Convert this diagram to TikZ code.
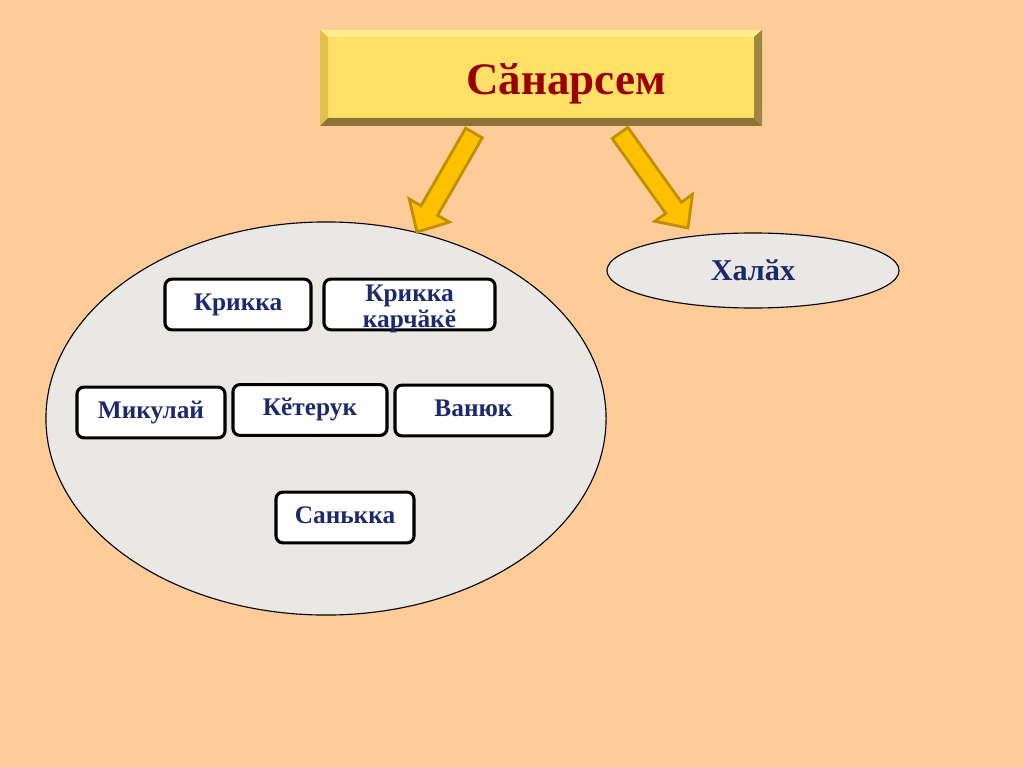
\documentclass[tikz,border=0pt]{standalone}
\usepackage{fontspec}
\setmainfont{Liberation Serif}
\usetikzlibrary{calc, shapes.geometric}
\definecolor{cpeach}{HTML}{FFCC99}
\definecolor{cyellow}{HTML}{FFE066}
\definecolor{cbevtop}{HTML}{FFEC8C}
\definecolor{cbevleft}{HTML}{E3C04A}
\definecolor{cbevbottom}{HTML}{8B7536}
\definecolor{cbevright}{HTML}{9C8640}
\definecolor{cgold}{HTML}{FFC000}
\definecolor{cgolddark}{HTML}{BF9000}
\definecolor{cstone}{HTML}{EAE8E5}
\definecolor{cnavy}{HTML}{1C2A6B}
\definecolor{cdarkred}{HTML}{990000}
\tikzset{
  every picture/.style={font=\bfseries},
  namebox/.style={draw=black, fill=white, rounded corners=5pt, line width=2.2pt, minimum width=#1, minimum height=1.27cm, inner sep=2pt, text=cnavy, font=\bfseries\fontsize{18}{18}\selectfont, align=center, text height=0.42cm, text depth=0.14cm},
  group/.style={ellipse, draw=black, fill=cstone, line width=0.8pt, inner sep=0pt},
  blockarrow/.style={draw=cgolddark, fill=cgold, line width=2pt, line join=miter},
  title/.style={text=cdarkred, font=\bfseries\fontsize{32}{32}\selectfont},
}
% block arrow from #1 to #2
\newcommand\blockarrow[2]{%
  \coordinate (h) at ($(#2)!0.62cm!(#1)$);
  \path[blockarrow] ($(#1)!0.24cm!90:(#2)$) -- ($(h)!0.24cm!-90:(#1)$) -- ($(h)!0.58cm!-90:(#1)$)
    -- (#2) -- ($(h)!0.58cm!90:(#1)$) -- ($(h)!0.24cm!90:(#1)$) -- ($(#1)!0.24cm!-90:(#2)$) -- cycle;}

\begin{document}
\begin{tikzpicture}[x=0.025cm, y=-0.025cm]
  \useasboundingbox (0,0) rectangle (1024,767);
  \fill[cpeach] (0,0) rectangle (1024,767);
  % title plate
  \fill[cyellow] (328,37) rectangle (754,118);
  \fill[cbevtop] (320,30) -- (762,30) -- (754,37) -- (328,37) -- cycle;
  \fill[cbevleft] (320,30) -- (328,37) -- (328,118) -- (320,126) -- cycle;
  \fill[cbevbottom] (320,126) -- (328,118) -- (754,118) -- (762,126) -- cycle;
  \fill[cbevright] (762,30) -- (762,126) -- (754,118) -- (754,37) -- cycle;
  \node[title] (title) at (566,84) {Сӑнарсем};
  % groups
  \node[group, minimum width=14cm, minimum height=9.825cm] (people) at (326,418.5) {};
  \node[group, minimum width=7.3cm, minimum height=1.875cm, text=cnavy, font=\bfseries\fontsize{21.5}{21.5}\selectfont] (halah) at (753,270.5) {Халӑх};
  % arrows
  \coordinate (a1) at (474,133);
  \coordinate (a2) at (620,133);
  \coordinate (t2) at (688,228);
  \blockarrow{a1}{people.64}
  \blockarrow{a2}{t2}
  % names
  \node[namebox=3.65cm] (kr) at (238,304.5) {Крикка};
  \node[namebox=4.275cm, text height=, text depth=] (krk) at (409.5,304.5) {};
  \node[text=cnavy, font=\bfseries\fontsize{18}{18}\selectfont, align=center] at (409.5,309) {Крикка\\карчӑкӗ};
  \node[namebox=3.7cm] (mik) at (151,412.5) {Микулай};
  \node[namebox=3.85cm] (ket) at (310,410) {Кӗтерук};
  \node[namebox=3.925cm] (van) at (473.5,410.5) {Ванюк};
  \node[namebox=3.45cm] (san) at (345,517.5) {Санькка};
\end{tikzpicture}
\end{document}
